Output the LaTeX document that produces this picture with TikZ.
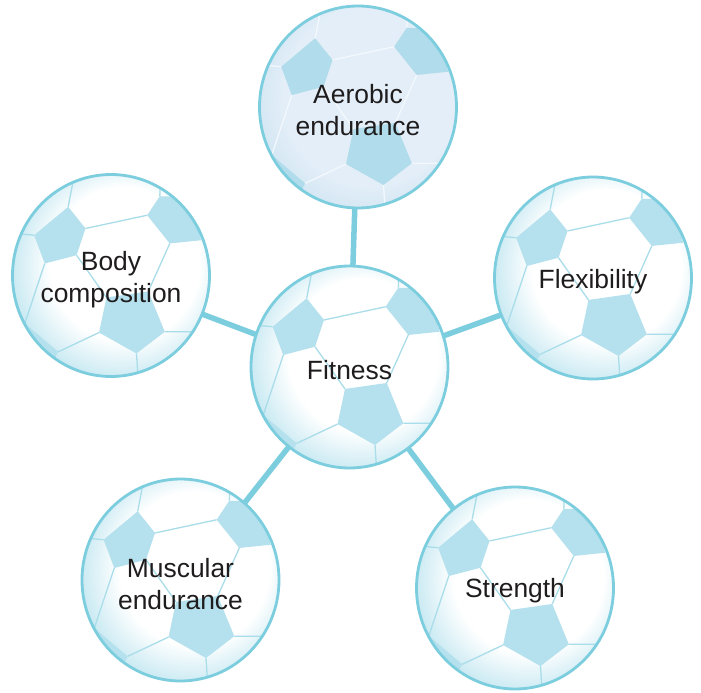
\documentclass[tikz,border=0pt]{standalone}
\usepackage{fontspec}
\setmainfont{Liberation Sans}
\definecolor{rim}{HTML}{7CCDDE}
\definecolor{patch}{HTML}{B4E1ED}
\definecolor{seam}{HTML}{A9DDEA}
\definecolor{glow}{HTML}{C8E9F2}
\definecolor{aerfill}{HTML}{E3EEF8}
\definecolor{aerrim}{HTML}{CFE5F2}
\definecolor{aerpatch}{HTML}{B0DCEB}
\definecolor{aerseam}{HTML}{F3F8FC}
\definecolor{labeltext}{HTML}{1F1C1D}

\pgfdeclarelayer{links}
\pgfdeclarelayer{art}
\pgfsetlayers{links,art,main}

% soft bluish rim glow, brighter towards the upper right
\pgfdeclareradialshading{ballglow}{\pgfpoint{6bp}{5bp}}{%
  color(0bp)=(white); color(19bp)=(white); color(28bp)=(glow); color(45bp)=(glow)}
\pgfdeclareradialshading{aerglow}{\pgfpoint{6bp}{5bp}}{%
  color(0bp)=(aerfill); color(22bp)=(aerfill); color(30bp)=(aerrim); color(45bp)=(aerrim)}

\tikzset{
  ballshape/.style={x radius=98.5bp, y radius=101bp},
  lbl/.style={inner sep=0pt, align=center, text=labeltext, font=\fontsize{26.5}{32}\selectfont},
  link/.style={draw=rim, line width=5.5bp}
}

% a football: shaded body, clipped panels and seams, outline
% #1 centre, #2 shading, #3 panel colour, #4 seam colour
\newcommand\football[4]{%
  \begin{pgfonlayer}{art}
    \shade[shading=#2] #1 ellipse[ballshape];
    \begin{scope}
      \clip #1 ellipse[ballshape];
      \begin{scope}[shift={#1}, x=98bp, y=98bp]
        \fill[#3] (-0.784,0.411) -- (-0.437,0.701) -- (-0.260,0.480) -- (-0.352,0.207) -- (-0.676,0.122) -- cycle;
        \fill[#3] (0.498,0.809) -- (0.369,0.615) -- (0.600,0.327) -- (0.92,0.36) -- (0.80,0.80) -- cycle;
        \fill[#3] (-0.046,-0.224) -- (0.380,-0.163) -- (0.549,-0.574) -- (0.260,-0.796) -- (-0.122,-0.582) -- cycle;
        \fill[#3] (-0.880,-0.490) -- (-0.539,-0.779) -- (-0.70,-1.10) -- (-1.15,-0.70) -- cycle;
        \draw[#4, line width=1.3bp]
          (-0.437,0.701) -- (-0.36,1.1)
          (-0.784,0.411) -- (-1.1,0.44)
          (-0.260,0.480) -- (0.369,0.615)
          (0.498,0.809) -- (0.51,1.1)
          (0.600,0.327) -- (0.380,-0.163)
          (-0.352,0.207) -- (-0.046,-0.224)
          (-0.676,0.122) -- (-0.880,-0.490)
          (-0.122,-0.582) -- (-0.539,-0.779)
          (0.549,-0.574) -- (1.1,-0.574)
          (0.260,-0.796) -- (0.28,-1.1);
      \end{scope}
    \end{scope}
    \draw[rim, line width=2.8bp] #1 ellipse[ballshape];
  \end{pgfonlayer}}

\begin{document}
\begin{tikzpicture}[x=1bp, y=-1bp]
  \useasboundingbox (0,0) rectangle (701,693);
  \football{(349.5,367)}{ballglow}{patch}{seam}
  \football{(358,107)}{aerglow}{aerpatch}{aerseam}
  \football{(111,275.5)}{ballglow}{patch}{seam}
  \football{(593,278)}{ballglow}{patch}{seam}
  \football{(180.5,580)}{ballglow}{patch}{seam}
  \football{(515,588)}{ballglow}{patch}{seam}

  \node[lbl] (fit)  at (349.5,370)  {Fitness};
  \node[lbl] (aer)  at (358,110)    {Aerobic\\endurance};
  \node[lbl] (body) at (111,279.5)  {Body\\composition};
  \node[lbl] (flex) at (593,281.5)  {Flexibility};
  \node[lbl] (musc) at (180.5,584)  {Muscular\\endurance};
  \node[lbl] (str)  at (515,591)    {Strength};

  \begin{pgfonlayer}{links}
    \draw[link] (fit.center) -- (aer.center);
    \draw[link] (fit.center) -- (body.center);
    \draw[link] (fit.center) -- (flex.center);
    \draw[link] (fit.center) -- (musc.center);
    \draw[link] (fit.center) -- (str.center);
  \end{pgfonlayer}
\end{tikzpicture}
\end{document}
